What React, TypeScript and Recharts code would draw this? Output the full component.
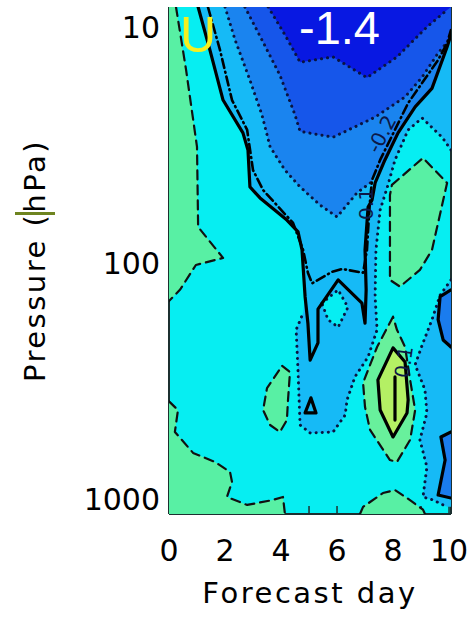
import React from "react";
import { CartesianGrid, ComposedChart, Scatter, XAxis, YAxis } from "recharts";

// every point is [forecast day, pressure hPa]
const dayTicks = [0, 1, 2, 3, 4, 5, 6, 7, 8, 9, 10];
const pressureTicks = [10, 100, 1000];

// filled regions
const greenTopLeft = [[0, 8.23], [0.25, 8.23], [0.61, 15.2], [1.0, 32.2], [1.04, 70.4], [1.93, 95.2], [0.96, 102], [0.39, 130], [0, 145]];
const greenBottomLeft = [[0, 386], [0.32, 420], [0.21, 520], [0.86, 638], [1.64, 697], [2.18, 769], [2.25, 847], [2.07, 981], [2.79, 1060], [3.71, 1010], [4.07, 981], [4.14, 1158], [0, 1158]];
const greenBubble = [[4.04, 273], [4.32, 290], [4.25, 380], [4.21, 463], [3.96, 520], [3.61, 486], [3.36, 420], [3.5, 339], [4.04, 273]];
const greenHexagon = [[7.96, 46.7], [9.07, 35.9], [9.93, 45.8], [9.39, 88.1], [8.96, 107], [8.25, 126], [7.89, 118], [7.89, 51.5], [7.96, 46.7]];
const greenTeardrop = [[8.0, 169], [7.43, 227], [6.93, 322], [7.0, 408], [7.18, 510], [7.89, 684], [8.14, 697], [8.61, 562], [8.79, 420], [8.61, 313], [8.43, 227], [8.14, 192], [8.0, 169]];
const greenBottom = [[6.82, 1158], [6.93, 1080], [7.64, 944], [8.07, 916], [8.5, 991], [9.07, 1110], [9.14, 1158]];
const yellowCore = [[8.0, 229], [8.43, 263], [8.54, 380], [8.5, 432], [8.0, 546], [7.54, 420], [7.46, 313], [8.0, 229]];
const lightBlue = [[1.04, 8.23], [1.46, 12.5], [1.93, 20.4], [2.64, 28.1], [2.82, 33.2], [2.89, 47.6], [3.25, 53.0], [4.21, 65.8], [4.61, 73.9], [4.75, 88.1], [4.86, 139], [4.79, 163], [4.54, 192], [4.61, 292], [4.68, 486], [5.04, 525], [5.86, 520], [6.29, 441], [6.36, 380], [6.64, 304], [7.11, 250], [7.43, 192], [7.36, 139], [7.39, 88.1], [7.54, 59.6], [7.82, 46.7], [8.07, 36.6], [8.54, 27.3], [9.04, 24.3], [9.75, 29.3], [10.07, 33.2], [10.07, 8.23]];
const cyanDiamond = [[5.46, 148], [6.04, 130], [6.39, 154], [6.04, 187], [5.68, 174], [5.46, 148]];
const lightBlueRight = [[10.07, 118], [9.68, 137], [9.39, 174], [9.04, 223], [8.79, 270], [9.14, 345], [9.21, 432], [8.96, 562], [9.21, 732], [9.07, 981], [9.43, 1010], [9.93, 1080], [10.07, 1080]];
const bluePatchUpper = [[9.68, 139], [10.07, 133], [10.07, 234], [9.79, 212], [9.61, 174]];
const bluePatchLower = [[9.71, 546], [10.07, 520], [10.07, 981], [9.61, 962], [9.86, 684]];
const blueMid = [[2.0, 8.23], [2.36, 11.35], [2.89, 16.8], [3.32, 23.6], [3.61, 32.2], [4.14, 40.4], [4.68, 47.6], [5.39, 56.8], [6.0, 63.8], [6.71, 50.5], [7.25, 45.2], [7.71, 36.6], [8.18, 28.1], [8.79, 21.8], [9.39, 18.2], [9.93, 12.15], [10.07, 10.8], [10.07, 8.23]];
const blueDeep = [[2.71, 8.23], [3.32, 11.35], [3.96, 16.0], [4.5, 23.6], [4.68, 27.7], [5.86, 29.3], [6.64, 26.5], [7.36, 24.1], [8.43, 19.8], [9.04, 16.3], [9.61, 12.9], [9.93, 11.6], [10.07, 10.8], [10.07, 8.23]];
const blueDarkest = [[3.54, 8.23], [4.14, 10.8], [4.68, 14.1], [5.86, 13.4], [7.07, 16.4], [8.14, 13.4], [9.21, 10.0], [9.93, 8.47], [10.07, 8.23]];

// contour lines
const solidMain = [[1.04, 8.23], [1.46, 12.5], [1.93, 20.4], [2.64, 28.1], [2.82, 33.2], [2.89, 47.6], [3.25, 53.0], [4.21, 65.8], [4.61, 73.9], [4.75, 88.1], [4.86, 139], [4.96, 180], [5.04, 258], [5.32, 218], [5.32, 157], [6.04, 118], [6.89, 148], [7.0, 180], [7.04, 130], [7.0, 88.1], [7.11, 57.9], [7.25, 54.1], [7.36, 45.8], [7.71, 36.6], [8.18, 28.1], [8.79, 21.8], [9.39, 18.2], [9.93, 12.15], [10.07, 10.8]];
const solidTriangle = [[5.07, 373], [5.25, 432], [4.86, 432], [5.07, 373]];
const solidBar = [[8.07, 304], [8.07, 463]];
const solidRightUpper = [[10.07, 130], [9.68, 139], [9.61, 174], [9.79, 212], [10.07, 227]];
const solidRightLower = [[10.07, 520], [9.71, 546], [9.86, 684], [9.61, 962], [10.07, 991]];
const dashDot = [[1.39, 8.23], [1.82, 12.5], [2.25, 20.4], [2.79, 27.3], [3.0, 40.4], [3.36, 49.1], [4.43, 67.7], [4.79, 88.1], [4.96, 110], [5.11, 122], [5.82, 109], [6.18, 106], [6.93, 110], [7.07, 88.1], [7.11, 72.4], [7.18, 54.1], [7.25, 44.5], [7.54, 36.6], [8.54, 21.0], [9.61, 13.8], [9.93, 11.7], [10.07, 10.3]];
const dottedA = blueMid.slice(0, 11);
const dottedB = blueDeep.slice(0, 12);
const dottedC = blueDarkest.slice(0, 8);
const dottedD = [[10.07, 33.2], [9.75, 29.3], [9.04, 24.3], [8.54, 27.3], [8.07, 36.6], [7.82, 46.7], [7.54, 59.6], [7.39, 88.1], [7.36, 139], [7.43, 192], [7.11, 250], [6.64, 304], [6.36, 380], [6.29, 441], [5.86, 520], [5.04, 525], [4.68, 486], [4.61, 292], [4.54, 192], [4.79, 163]];
const dottedRight = lightBlueRight.slice(0, 12);
const dashedLeft = greenTopLeft.slice(1);
const dashedBottomLeft = greenBottomLeft.slice(0, 12);

const CYAN = "#06eef2";
const GREEN = "#58f0a4";

const pts = (arr: number[][]) => arr.map(([d, p]) => ({ d, p }));
const noDot = () => <g />;

const pathOf = (points: { x: number; y: number }[], close: boolean) =>
  points.map((pt, i) => `${i ? "L" : "M"}${pt.x},${pt.y}`).join(" ") + (close ? " Z" : "");

const region = (key: string, arr: number[][], fill: string) => (
  <Scatter
    key={key}
    data={pts(arr)}
    dataKey="p"
    isAnimationActive={false}
    shape={noDot}
    line={(lp: any) => <path d={pathOf(lp.points || [], true)} fill={fill} stroke="none" />}
  />
);

const contour = (key: string, arr: number[][], style: { stroke: string; width: number; dash?: string }) => (
  <Scatter
    key={key}
    data={pts(arr)}
    dataKey="p"
    isAnimationActive={false}
    shape={noDot}
    line={(lp: any) => (
      <path
        d={pathOf(lp.points || [], false)}
        fill="none"
        stroke={style.stroke}
        strokeWidth={style.width}
        strokeDasharray={style.dash}
        strokeLinecap="round"
        strokeLinejoin="round"
      />
    )}
  />
);

const solid = { stroke: "#000", width: 3.2 };
const dashed = { stroke: "#111", width: 2.2, dash: "9 6" };
const dotted = { stroke: "#0a1440", width: 3, dash: "0.1 6" };
const dashdot = { stroke: "#000", width: 2.6, dash: "9 4 1 4" };

const axisColor = "#1c3030";
const tickFont = { fill: "#000", fontSize: 30, fontFamily: "DejaVu Sans" };

export default function App() {
  return (
    <div style={{ position: "absolute", left: 0, top: 0, width: 470, height: 618, background: "#fff", overflow: "hidden" }}>
      <div style={{ position: "absolute", left: 15, top: 212, width: 40, height: 3, background: "#6e8420" }} />
      <ComposedChart width={470} height={618} margin={{ top: 7, right: 0, bottom: 0, left: 0 }}>
        <CartesianGrid fill={CYAN} horizontal={false} vertical={false} />
        {region("lb", lightBlue, "#16baf6")}
        {region("cd", cyanDiamond, CYAN)}
        {region("lbr", lightBlueRight, "#16baf6")}
        {region("bpu", bluePatchUpper, "#1a7cee")}
        {region("bpl", bluePatchLower, "#1a7cee")}
        {region("bm", blueMid, "#1a84ef")}
        {region("bd", blueDeep, "#1656ea")}
        {region("bk", blueDarkest, "#0818e2")}
        {region("g1", greenTopLeft, GREEN)}
        {region("g2", greenBottomLeft, GREEN)}
        {region("g3", greenBubble, GREEN)}
        {region("g4", greenHexagon, GREEN)}
        {region("g5", greenTeardrop, "#68f09c")}
        {region("g6", greenBottom, GREEN)}
        {region("y1", yellowCore, "#b4f064")}

        {contour("ds1", dashedLeft, dashed)}
        {contour("ds2", dashedBottomLeft, dashed)}
        {contour("ds3", greenBubble, dashed)}
        {contour("ds4", greenHexagon, dashed)}
        {contour("ds5", greenTeardrop, dashed)}
        {contour("ds6", greenBottom, dashed)}
        {contour("dta", dottedA, dotted)}
        {contour("dtb", dottedB, dotted)}
        {contour("dtc", dottedC, dotted)}
        {contour("dtd", dottedD, dotted)}
        {contour("dte", cyanDiamond, dotted)}
        {contour("dtf", dottedRight, dotted)}
        {contour("dd", dashDot, dashdot)}
        {contour("s1", solidMain, solid)}
        {contour("s2", solidTriangle, solid)}
        {contour("s3", yellowCore, solid)}
        {contour("s4", solidBar, solid)}
        {contour("s5", solidRightUpper, solid)}
        {contour("s6", solidRightLower, solid)}

        <XAxis
          type="number"
          dataKey="d"
          domain={[0, 10.07]}
          allowDataOverflow
          ticks={dayTicks}
          interval={0}
          tickFormatter={(v: number) => (v % 2 === 0 ? String(v) : "")}
          height={104}
          tickSize={-8}
          tickMargin={34}
          axisLine={{ stroke: axisColor, strokeWidth: 2 }}
          tickLine={{ stroke: axisColor, strokeWidth: 1.5 }}
          tick={tickFont}
          label={{ value: "Forecast day", position: "insideBottom", offset: 15, fill: "#000", fontSize: 29, fontFamily: "DejaVu Sans", letterSpacing: 2.5 }}
        />
        <YAxis
          type="number"
          dataKey="p"
          scale="log"
          domain={[8.23, 1158]}
          allowDataOverflow
          reversed
          ticks={pressureTicks}
          interval={0}
          width={169}
          tickSize={-10}
          tickMargin={19}
          axisLine={{ stroke: axisColor, strokeWidth: 2 }}
          tickLine={{ stroke: axisColor, strokeWidth: 1.5 }}
          tick={tickFont}
          label={{ value: "Pressure (hPa)", angle: -90, position: "insideLeft", offset: 35, fill: "#000", fontSize: 29, fontFamily: "DejaVu Sans", letterSpacing: 2.5, style: { textAnchor: "middle" } }}
        />
        <YAxis
          yAxisId="frame"
          orientation="right"
          type="number"
          scale="log"
          domain={[8.23, 1158]}
          allowDataOverflow
          reversed
          width={19}
          tick={false}
          tickLine={false}
          axisLine={{ stroke: axisColor, strokeWidth: 2 }}
        />
      </ComposedChart>
      <div style={{ position: "absolute", left: 180, top: 5, color: "#f4f020", fontSize: 50, fontFamily: "Liberation Sans", lineHeight: "60px" }}>U</div>
      <div style={{ position: "absolute", left: 299, top: 0, color: "#fff", fontSize: 47, fontFamily: "Liberation Sans", lineHeight: "56px" }}>-1.4</div>
      <div style={{ position: "absolute", left: 362, top: 122, color: "#0c1848", fontSize: 20, fontFamily: "DejaVu Sans", transform: "rotate(-62deg)" }}>-0.2</div>
      <div style={{ position: "absolute", left: 350, top: 192, color: "#0c1848", fontSize: 20, fontFamily: "DejaVu Sans", transform: "rotate(-90deg)" }}>0.1</div>
      <div style={{ position: "absolute", left: 388, top: 350, color: "#0c1848", fontSize: 20, fontFamily: "DejaVu Sans", transform: "rotate(-82deg)" }}>0.1</div>
    </div>
  );
}
